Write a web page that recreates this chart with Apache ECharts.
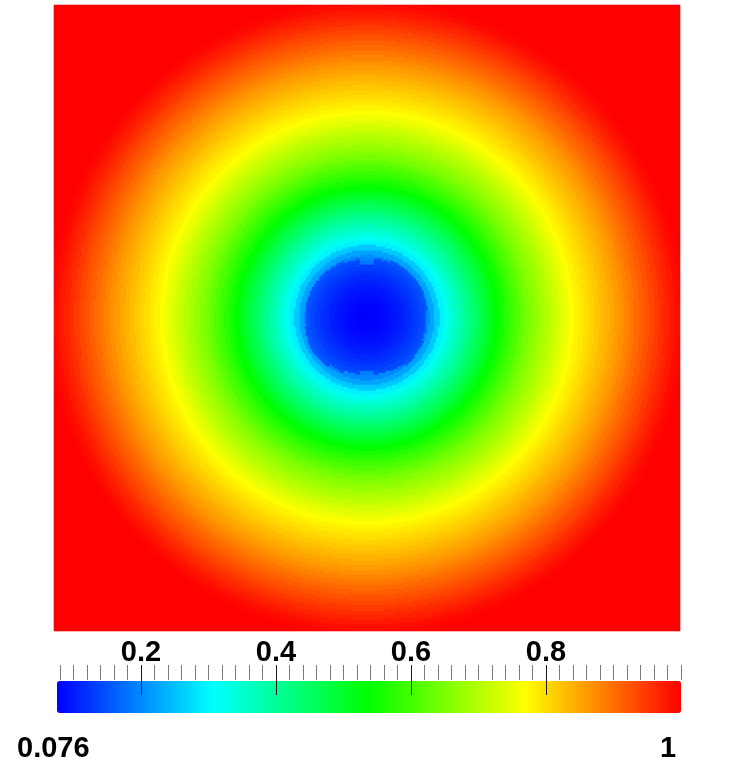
<!DOCTYPE html>
<html>
<head>
<meta charset="utf-8">
<script src="https://cdn.jsdelivr.net/npm/echarts@6/dist/echarts.min.js"></script>
<style>
  html, body { margin: 0; padding: 0; background: #ffffff; }
  #chart { width: 729px; height: 764px; }
</style>
</head>
<body>
<div id="chart"></div>
<script>
// ---- Data ----
// Radial profile of the field outside the blue core (radius in plot pixels from the centre -> value)
const outerRadii  = [50, 55, 60, 65, 70, 75, 80, 85, 90, 95, 100, 105, 110, 115, 120, 125, 130, 135, 140, 145, 150, 155, 160, 165, 170, 175, 180, 185, 190, 195, 200, 205, 210, 215, 220, 225, 230, 235, 240, 245, 250, 255, 260, 265, 270, 275, 280, 285, 290, 295, 300, 305, 310, 315, 320];
const outerLevels = [0.17, 0.185, 0.20, 0.225, 0.258, 0.295, 0.322, 0.343, 0.365, 0.386, 0.408, 0.429, 0.451, 0.472, 0.494, 0.516, 0.538, 0.556, 0.574, 0.592, 0.610, 0.628, 0.645, 0.659, 0.673, 0.687, 0.700, 0.714, 0.728, 0.742, 0.755, 0.769, 0.779, 0.789, 0.799, 0.809, 0.819, 0.829, 0.839, 0.849, 0.859, 0.870, 0.881, 0.892, 0.903, 0.914, 0.925, 0.936, 0.947, 0.958, 0.968, 0.978, 0.987, 0.995, 1.0];
// Radial profile inside the blue core
const innerRadii  = [0, 5, 10, 15, 20, 25, 30, 35, 40, 45, 50, 55, 60, 65];
const innerLevels = [0.076, 0.077, 0.079, 0.082, 0.086, 0.091, 0.097, 0.104, 0.112, 0.121, 0.131, 0.142, 0.153, 0.165];
// Outline of the blue core: direction (degrees, counter-clockwise from +x) -> edge radius
const coreAngles = [0, 15, 30, 45, 60, 75, 90, 105, 120, 135, 150, 165, 180, 195, 210, 225, 240, 255, 270, 285, 300, 315, 330, 345];
const coreEdge   = [60, 61, 62, 62, 62, 60, 54, 59, 61, 61, 62, 62, 62, 63, 64, 63, 60, 57, 53, 57, 59, 61, 61, 60];
// Colour bar
const barMin = 0.076;
const barMax = 1;
const tickLabels = ['0.2', '0.4', '0.6', '0.8'];
const rampColors = ['#0000ff', '#00ffff', '#00ff00', '#ffff00', '#ff0000'];

// ---- Build the heatmap table from the profiles ----
const cells = 313;          // cells per side
const cellPx = 2;           // plot pixels per cell
function nearest(radii, levels, r) {
  let best = 0, bestD = Infinity;
  for (let k = 0; k < radii.length; k++) {
    const d = Math.abs(radii[k] - r);
    if (d < bestD) { bestD = d; best = k; }
  }
  return levels[best];
}
const cats = [];
for (let i = 0; i < cells; i++) cats.push(i);
const half = (cells - 1) / 2;
const anglesWrap = coreAngles.concat([360]);
const edgeWrap = coreEdge.concat([coreEdge[0]]);
const heat = [];
for (let j = 0; j < cells; j++) {
  for (let i = 0; i < cells; i++) {
    const dx = (i - half) * cellPx;
    const dy = (half - j) * cellPx;
    const r = Math.sqrt(dx * dx + dy * dy);
    let ang = Math.atan2(dy, dx) * 180 / Math.PI;
    if (ang < 0) ang += 360;
    const edge = nearest(anglesWrap, edgeWrap, ang);
    const v = r < edge ? nearest(innerRadii, innerLevels, r) : nearest(outerRadii, outerLevels, r);
    heat.push([i, j, v]);
  }
}

const chart = echarts.init(document.getElementById('chart'), null, { renderer: 'canvas' });
const labelFont = { fontFamily: 'Liberation Sans, Arial, Helvetica, sans-serif', fontWeight: 'bold', fontSize: 29, color: '#000' };
chart.setOption({
  animation: false,
  backgroundColor: '#ffffff',
  grid: [
    { left: 54, top: 5, width: 626, height: 626 },
    { left: 60, top: 665, width: 621, height: 16 },
    { left: 141, top: 665, width: 405, height: 16 }
  ],
  xAxis: [
    { gridIndex: 0, type: 'category', data: cats, show: false },
    { gridIndex: 1, type: 'value', min: 0.08, max: 1, interval: 0.02, position: 'top', z: 6,
      axisLine: { show: false, onZero: false }, splitLine: { show: false }, axisLabel: { show: false },
      axisTick: { show: true, inside: true, length: 15, lineStyle: { color: '#7a7a7a', width: 1 } } },
    { gridIndex: 2, type: 'value', min: 0.2, max: 0.8, interval: 0.2, position: 'top', z: 7,
      axisLine: { show: false, onZero: false }, splitLine: { show: false },
      axisTick: { show: true, inside: true, length: 30, lineStyle: { color: '#1a1a1a', width: 1 } },
      axisLabel: Object.assign({ show: true, margin: -2, formatter: (v, idx) => tickLabels[idx] }, labelFont) }
  ],
  yAxis: [
    { gridIndex: 0, type: 'category', data: cats, inverse: true, show: false },
    { gridIndex: 1, type: 'value', show: false, min: 0, max: 1 },
    { gridIndex: 2, type: 'value', show: false, min: 0, max: 1 }
  ],
  visualMap: {
    type: 'continuous', seriesIndex: 0, min: barMin, max: barMax,
    orient: 'horizontal', left: 57, top: 681, itemWidth: 32, itemHeight: 624,
    padding: 0, calculable: false, hoverLink: false, realtime: false, text: null, z: 4,
    inRange: { color: rampColors }
  },
  graphic: [
    { type: 'text', left: 17, top: 734, z: 10, style: { text: String(barMin), font: 'bold 29px "Liberation Sans", Arial, sans-serif', fill: '#000' } },
    { type: 'text', left: 660, top: 734, z: 10, style: { text: String(barMax), font: 'bold 29px "Liberation Sans", Arial, sans-serif', fill: '#000' } }
  ],
  series: [{
    type: 'heatmap', xAxisIndex: 0, yAxisIndex: 0, data: heat,
    progressive: 0, progressiveThreshold: 10000000,
    emphasis: { disabled: true }, itemStyle: { borderWidth: 0 }
  }]
});
</script>
</body>
</html>
